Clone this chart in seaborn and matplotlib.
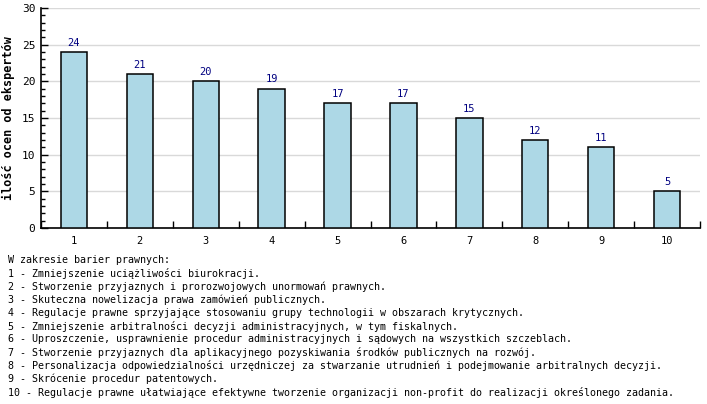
import numpy as np
import pandas as pd
import matplotlib
matplotlib.use('Agg')
import matplotlib.pyplot as plt
from matplotlib.ticker import MultipleLocator
import seaborn as sns

# dane z wykresu
kategorie = ['1', '2', '3', '4', '5', '6', '7', '8', '9', '10']
oceny = [24, 21, 20, 19, 17, 17, 15, 12, 11, 5]

naglowek = 'W zakresie barier prawnych:'
opisy = [
    'Zmniejszenie uciążliwości biurokracji.',
    'Stworzenie przyjaznych i prorozwojowych unormowań prawnych.',
    'Skuteczna nowelizacja prawa zamówień publicznych.',
    'Regulacje prawne sprzyjające stosowaniu grupy technologii w obszarach krytycznych.',
    'Zmniejszenie arbitralności decyzji administracyjnych, w tym fiskalnych.',
    'Uproszczenie, usprawnienie procedur administracyjnych i sądowych na wszystkich szczeblach.',
    'Stworzenie przyjaznych dla aplikacyjnego pozyskiwania środków publicznych na rozwój.',
    'Personalizacja odpowiedzialności urzędniczej za stwarzanie utrudnień i podejmowanie arbitralnych decyzji.',
    'Skrócenie procedur patentowych.',
    'Regulacje prawne ułatwiające efektywne tworzenie organizacji non-profit do realizacji określonego zadania.',
]

sns.set_style('white', {'xtick.bottom': True, 'ytick.left': True})
plt.rcParams['font.family'] = ['DejaVu Sans Mono']
plt.rcParams['text.color'] = 'black'
plt.rcParams['axes.labelcolor'] = 'black'
plt.rcParams['xtick.color'] = 'black'
plt.rcParams['ytick.color'] = 'black'

df = pd.DataFrame({'nr': kategorie, 'ocena': oceny})

fig = plt.figure(figsize=(7.07, 4.04), dpi=100)
ax = fig.add_axes([41 / 707, 176 / 404, 659 / 707, 220 / 404])

sns.barplot(data=df, x='nr', y='ocena', color='#add8e6', edgecolor='black',
            linewidth=1.1, width=0.4, saturation=1, ax=ax, zorder=3)

for i, v in enumerate(oceny):
    ax.text(i, v + 0.6, str(v), ha='center', va='bottom', color='#000080', fontsize=7.5)

ax.set_ylim(0, 30)
ax.set_xlim(-0.5, 9.5)
ax.yaxis.set_major_locator(MultipleLocator(5))
ax.yaxis.set_minor_locator(MultipleLocator(1))
ax.grid(axis='y', color='#d9d9d9', linewidth=1, zorder=0)
ax.set_axisbelow(True)

# znaczniki osi x pomiędzy kategoriami
ax.set_xticks(np.arange(10))
ax.set_xticklabels(kategorie, fontsize=7.5)
ax.set_xticks(np.arange(-0.5, 10, 1), minor=True)
ax.tick_params(axis='x', which='major', length=0, pad=6)
ax.tick_params(axis='x', which='minor', direction='in', length=5, width=1, bottom=True)
ax.tick_params(axis='y', which='major', direction='in', length=5, width=1, labelsize=8, pad=4, left=True)
ax.tick_params(axis='y', which='minor', direction='in', length=3, width=1, left=True)

for s in ['top', 'right']:
    ax.spines[s].set_visible(False)
for s in ['left', 'bottom']:
    ax.spines[s].set_color('black')
    ax.spines[s].set_linewidth(1.2)

ax.set_xlabel('')
ax.set_ylabel('ilość ocen od ekspertów', fontsize=8.5, fontweight='bold', labelpad=5)

linie = [naglowek] + ['%d - %s' % (i + 1, t) for i, t in enumerate(opisy)]
for k, t in enumerate(linie):
    fig.text(8 / 707, 1 - (260 + k * 13.2) / 404, t, fontsize=7.2, va='center', ha='left')

fig.savefig('out.png', dpi=100)
